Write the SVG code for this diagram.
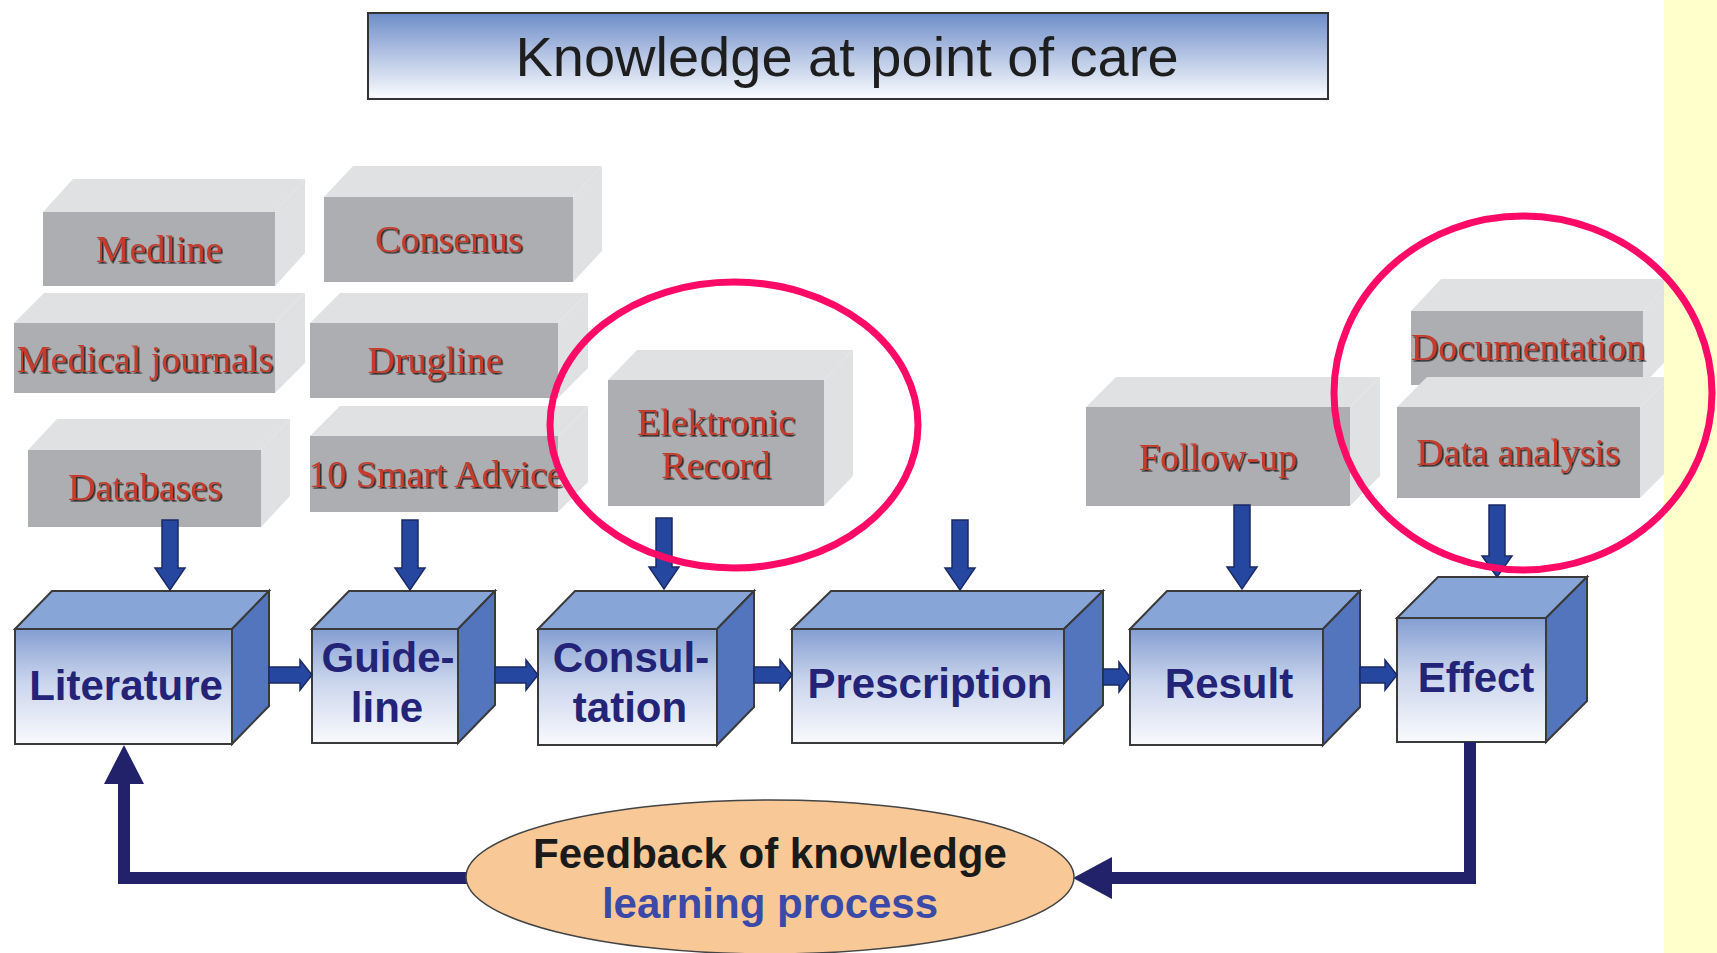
<svg xmlns="http://www.w3.org/2000/svg" width="1717" height="953" viewBox="0 0 1717 953">
<defs>
<linearGradient id="gTitle" x1="0" y1="0" x2="0" y2="1">
<stop offset="0" stop-color="#6C8DC8"/><stop offset="0.45" stop-color="#AFC0E2"/><stop offset="1" stop-color="#FBFCFE"/>
</linearGradient>
<linearGradient id="gCube" x1="0" y1="0" x2="0" y2="1">
<stop offset="0" stop-color="#849ED2"/><stop offset="0.45" stop-color="#C9D4EC"/><stop offset="1" stop-color="#F9FAFD"/>
</linearGradient>
<filter id="sh" x="-5%" y="-20%" width="110%" height="140%">
<feDropShadow dx="1.6" dy="1.6" stdDeviation="0.4" flood-color="#1a1a1a" flood-opacity="0.9"/>
</filter>
<style>
.gf{fill:#ADAEB2}
.gs{fill:#E0E1E3}
.gt{font-family:"Liberation Serif","Times New Roman",serif;font-size:38px;fill:#C63B2B;text-anchor:middle;filter:url(#sh)}
.cf{fill:url(#gCube);stroke:#3a3a3a;stroke-width:2}
.ct{fill:#87A5D6;stroke:#3a3a3a;stroke-width:2}
.cr{fill:#5275BD;stroke:#3a3a3a;stroke-width:2}
.cl{font-family:"Liberation Sans",Arial,sans-serif;font-weight:bold;font-size:42px;fill:#232377;text-anchor:middle}
.ba{fill:#2547A0;stroke:#1B2A66;stroke-width:1.5}
.fb{fill:none;stroke:#22226A;stroke-width:12}
.fh{fill:#22226A}
.ring{fill:none;stroke:#FF0A66;stroke-width:7}
</style>
</defs>
<rect x="0" y="0" width="1717" height="953" fill="#FFFFFF"/>

<g id="title">
<rect x="368" y="13" width="960" height="86" fill="url(#gTitle)" stroke="#333" stroke-width="2"/>
<text x="847" y="76" font-family="Liberation Sans,Arial,sans-serif" font-size="56" fill="#1E1E1E" text-anchor="middle">Knowledge at point of care</text>
</g>

<g id="medline">
<polygon class="gs" points="43,212 73,179 305,179 275,212"/>
<polygon class="gs" points="275,212 305,179 305,253 275,286"/>
<rect class="gf" x="43" y="212" width="232" height="74"/>
<text class="gt" x="159" y="262">Medline</text>
</g>
<g id="consenus">
<polygon class="gs" points="324,197 353,166 602,166 573,197"/>
<polygon class="gs" points="573,197 602,166 602,251 573,282"/>
<rect class="gf" x="324" y="197" width="249" height="85"/>
<text class="gt" x="449" y="252">Consenus</text>
</g>
<g id="medical-journals">
<polygon class="gs" points="14,323 44,293 305,293 275,323"/>
<polygon class="gs" points="275,323 305,293 305,363 275,393"/>
<rect class="gf" x="14" y="323" width="261" height="70"/>
<text class="gt" x="145" y="372">Medical journals</text>
</g>
<g id="drugline">
<polygon class="gs" points="310,323 340,293 588,293 558,323"/>
<polygon class="gs" points="558,323 588,293 588,368 558,398"/>
<rect class="gf" x="310" y="323" width="248" height="75"/>
<text class="gt" x="435" y="373">Drugline</text>
</g>
<g id="databases">
<polygon class="gs" points="28,450 57,419 290,419 261,450"/>
<polygon class="gs" points="261,450 290,419 290,496 261,527"/>
<rect class="gf" x="28" y="450" width="233" height="77"/>
<text class="gt" x="145" y="500">Databases</text>
</g>
<g id="smart-advice">
<polygon class="gs" points="310,436 340,406 588,406 558,436"/>
<polygon class="gs" points="558,436 588,406 588,482 558,512"/>
<rect class="gf" x="310" y="436" width="248" height="76"/>
<text class="gt" x="436" y="487">10 Smart Advice</text>
</g>
<g id="elektronic-record">
<polygon class="gs" points="608,380 637,350 853,350 824,380"/>
<polygon class="gs" points="824,380 853,350 853,476 824,506"/>
<rect class="gf" x="608" y="380" width="216" height="126"/>
<text class="gt" x="716" y="435">Elektronic</text>
<text class="gt" x="716" y="478">Record</text>
</g>
<g id="follow-up">
<polygon class="gs" points="1086,407 1116,377 1380,377 1350,407"/>
<polygon class="gs" points="1350,407 1380,377 1380,476 1350,506"/>
<rect class="gf" x="1086" y="407" width="264" height="99"/>
<text class="gt" x="1218" y="470">Follow-up</text>
</g>
<g id="documentation">
<polygon class="gs" points="1411,311 1441,279 1673,279 1643,311"/>
<polygon class="gs" points="1643,311 1673,279 1673,353 1643,385"/>
<rect class="gf" x="1411" y="311" width="232" height="74"/>
<text class="gt" x="1528" y="360">Documentation</text>
</g>
<g id="data-analysis">
<polygon class="gs" points="1397,407 1427,377 1670,377 1640,407"/>
<polygon class="gs" points="1640,407 1670,377 1670,468 1640,498"/>
<rect class="gf" x="1397" y="407" width="243" height="91"/>
<text class="gt" x="1518" y="465">Data analysis</text>
</g>

<g id="literature">
<polygon class="ct" points="15,629 52,591 269,591 232,629"/>
<polygon class="cr" points="232,629 269,591 269,706 232,744"/>
<rect class="cf" x="15" y="629" width="217" height="115"/>
<text class="cl" x="126" y="700">Literature</text>
</g>
<g id="guideline">
<polygon class="ct" points="312,629 349,591 495,591 458,629"/>
<polygon class="cr" points="458,629 495,591 495,705 458,743"/>
<rect class="cf" x="312" y="629" width="146" height="114"/>
<text class="cl" x="388" y="672">Guide-</text>
<text class="cl" x="387" y="722">line</text>
</g>
<g id="consultation">
<polygon class="ct" points="538,629 575,591 754,591 717,629"/>
<polygon class="cr" points="717,629 754,591 754,707 717,745"/>
<rect class="cf" x="538" y="629" width="179" height="116"/>
<text class="cl" x="631" y="672">Consul-</text>
<text class="cl" x="630" y="722">tation</text>
</g>
<g id="prescription">
<polygon class="ct" points="792,629 831,591 1103,591 1064,629"/>
<polygon class="cr" points="1064,629 1103,591 1103,705 1064,743"/>
<rect class="cf" x="792" y="629" width="272" height="114"/>
<text class="cl" x="930" y="698">Prescription</text>
</g>
<g id="result">
<polygon class="ct" points="1130,629 1167,591 1360,591 1323,629"/>
<polygon class="cr" points="1323,629 1360,591 1360,707 1323,745"/>
<rect class="cf" x="1130" y="629" width="193" height="116"/>
<text class="cl" x="1229" y="698">Result</text>
</g>
<g id="effect">
<polygon class="ct" points="1397,618 1438,577 1587,577 1546,618"/>
<polygon class="cr" points="1546,618 1587,577 1587,701 1546,742"/>
<rect class="cf" x="1397" y="618" width="149" height="124"/>
<text class="cl" x="1476" y="692">Effect</text>
</g>

<g id="connectors">
<polygon class="ba" points="162,520 178,520 178,568 185,568 170,590 155,568 162,568"/>
<polygon class="ba" points="402,520 418,520 418,568 425,568 410,590 395,568 402,568"/>
<polygon class="ba" points="656,518 672,518 672,567 679,567 664,589 649,567 656,567"/>
<polygon class="ba" points="952,520 968,520 968,568 975,568 960,590 945,568 952,568"/>
<polygon class="ba" points="1234,505 1250,505 1250,567 1257,567 1242,589 1227,567 1234,567"/>
<polygon class="ba" points="1489,505 1505,505 1505,556 1512,556 1497,577 1482,556 1489,556"/>
<polygon class="ba" points="269,667 300,667 300,660 312,675 300,690 300,683 269,683"/>
<polygon class="ba" points="495,667 526,667 526,660 538,675 526,690 526,683 495,683"/>
<polygon class="ba" points="754,667 780,667 780,660 792,675 780,690 780,683 754,683"/>
<polygon class="ba" points="1103,669 1119,669 1119,662 1130,677 1119,692 1119,685 1103,685"/>
<polygon class="ba" points="1360,667 1385,667 1385,660 1397,675 1385,690 1385,683 1360,683"/>
<polyline class="fb" points="470,878 124,878 124,780"/>
<polygon class="fh" points="104,784 144,784 124,745"/>
<polyline class="fb" points="1470,742 1470,878 1108,878"/>
<polygon class="fh" points="1112,857 1112,899 1073,878"/>
</g>

<g id="feedback">
<ellipse cx="770" cy="877" rx="304" ry="77" fill="#F8C997" stroke="#444" stroke-width="1.5"/>
<text x="770" y="868" font-family="Liberation Sans,Arial,sans-serif" font-weight="bold" font-size="42" fill="#1A1A1A" text-anchor="middle">Feedback of knowledge</text>
<text x="770" y="918" font-family="Liberation Sans,Arial,sans-serif" font-weight="bold" font-size="42" fill="#3B4AA8" text-anchor="middle">learning process</text>
</g>

<rect id="side-panel" x="1664" y="0" width="53" height="953" fill="#FFFFCC"/>

<g id="highlights">
<ellipse class="ring" cx="734" cy="425" rx="184" ry="143"/>
<ellipse class="ring" cx="1523" cy="393" rx="189" ry="177"/>
</g>
</svg>
